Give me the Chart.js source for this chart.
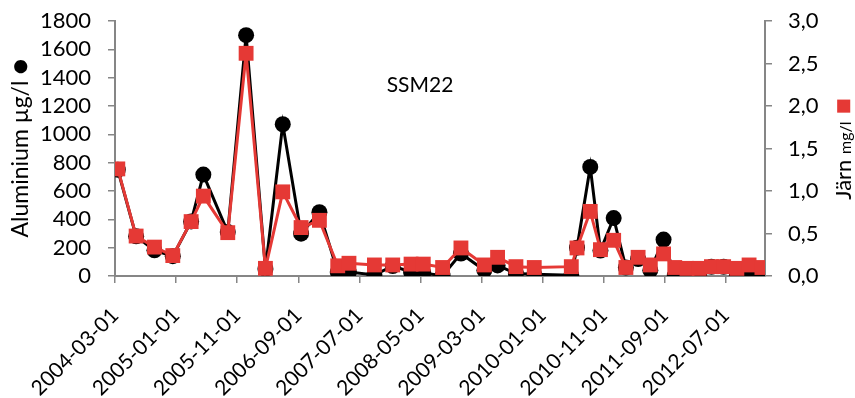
<!doctype html>
<html>

<head>
	<title>SSM22 aluminium och järn</title>
	<script src="https://cdn.jsdelivr.net/npm/chart.js@4.4.0/dist/chart.umd.min.js"></script>
	<style>
		body { margin: 0; background: #fff; }
	</style>
</head>

<body>
	<canvas id="chart-area" width="855" height="398"></canvas>

	<script>
		// provtagningsdatum
		var dates = [
			'2004-03-15', '2004-06-15', '2004-09-15', '2004-12-15', '2005-03-15', '2005-05-15',
			'2005-09-15', '2005-12-15', '2006-03-20', '2006-06-15', '2006-09-15', '2006-12-15',
			'2007-03-15', '2007-05-10', '2007-09-15', '2007-12-15', '2008-03-15', '2008-05-15',
			'2008-08-20', '2008-11-20', '2009-03-15', '2009-05-20', '2009-08-20', '2009-11-20',
			'2010-05-22', '2010-06-20', '2010-08-25', '2010-10-15', '2010-12-20', '2011-02-20',
			'2011-04-20', '2011-06-20', '2011-08-25', '2011-10-20', '2011-12-20', '2012-02-20',
			'2012-04-20', '2012-06-20', '2012-08-25', '2012-10-25', '2012-12-28'
		];
		// Aluminium µg/l
		var aluminium = [
			750, 280, 181, 140, 385, 716,
			310, 1700, 50, 1071, 299, 450,
			28, 28, 8, 70, 28, 21,
			2, 158, 40, 75, 17, 12,
			5, 200, 770, 180, 409, 60,
			120, 40, 257, 2, 2, 10,
			65, 65, 5, 17, 2
		];
		// Järn mg/l
		var jarn = [
			1.26, 0.47, 0.34, 0.24, 0.64, 0.94,
			0.51, 2.62, 0.09, 0.99, 0.57, 0.655,
			0.12, 0.15, 0.13, 0.13, 0.14, 0.14,
			0.10, 0.33, 0.13, 0.22, 0.11, 0.10,
			0.11, 0.33, 0.76, 0.31, 0.42, 0.10,
			0.22, 0.13, 0.26, 0.10, 0.09, 0.09,
			0.11, 0.11, 0.09, 0.13, 0.10
		];
		var tickLabels = [
			'2004-03-01', '2005-01-01', '2005-11-01', '2006-09-01', '2007-07-01', '2008-05-01',
			'2009-03-01', '2010-01-01', '2010-11-01', '2011-09-01', '2012-07-01'
		];
		var axisStart = '2004-03-01';
		var axisEnd = '2013-01-13';

		// datum -> månader sedan axelns start
		function monthsSince(s) {
			var p = s.split('-').map(Number);
			var a = axisStart.split('-').map(Number);
			return (p[0] - a[0]) * 12 + (p[1] - a[1]) + (p[2] - 1) / 30.44;
		}

		function pts(values) {
			return values.map(function(v, i) { return { x: monthsSince(dates[i]), y: v }; });
		}

		var tickPos = tickLabels.map(monthsSince);
		var font = 'Lato, "Open Sans", sans-serif';
		var gray = '#868686';
		var red = '#E53935';

		// skriver delar av en roterad text efter varandra, centrerat
		function rotatedParts(c, x, y, parts) {
			c.save();
			c.translate(x, y);
			c.rotate(-Math.PI / 2);
			c.textAlign = 'left';
			c.textBaseline = 'alphabetic';
			var total = 0;
			parts.forEach(function(p) { c.font = p.size + 'px ' + font; p.w = c.measureText(p.text).width; total += p.w; });
			var cx = -total / 2;
			parts.forEach(function(p) {
				c.font = p.size + 'px ' + font;
				c.fillStyle = p.color || '#000';
				c.fillText(p.text, cx, 8 + (p.dy || 0));
				cx += p.w;
			});
			c.restore();
		}

		var titles = {
			id: 'titles',
			afterDraw: function(chart) {
				var c = chart.ctx;
				c.save();
				c.fillStyle = '#000';
				c.textBaseline = 'middle';
				c.textAlign = 'center';
				c.font = '21px ' + font;
				c.fillText('SSM22', 420, 85);
				c.restore();

				rotatedParts(c, 20, 148, [
					{ text: 'Aluminium µg/l ', size: 23 },
					{ text: '●', size: 27, dy: 1 }
				]);
				rotatedParts(c, 843, 149, [
					{ text: 'Järn ', size: 22 },
					{ text: 'mg/l', size: 16 },
					{ text: ' ■', size: 27, color: red, dy: 1 }
				]);
			}
		};

		function yFit(w) {
			return function(scale) {
				scale.width = w;
				scale.paddingTop = 0;
				scale.paddingBottom = 0;
			};
		}

		var ctx = document.getElementById('chart-area').getContext('2d');
		window.myChart = new Chart(ctx, {
			type: 'line',
			data: {
				datasets: [{
					label: 'Aluminium µg/l',
					data: pts(aluminium),
					yAxisID: 'yAl',
					borderColor: '#000',
					backgroundColor: '#000',
					borderWidth: 3,
					pointStyle: 'circle',
					pointRadius: 8,
					pointBorderWidth: 0,
					order: 2
				}, {
					label: 'Järn mg/l',
					data: pts(jarn),
					yAxisID: 'yFe',
					borderColor: red,
					backgroundColor: red,
					borderWidth: 3,
					pointStyle: 'rect',
					pointRadius: 10.5,
					pointBorderWidth: 0,
					order: 1
				}]
			},
			options: {
				responsive: false,
				animation: false,
				layout: { padding: { top: 21 } },
				plugins: {
					legend: { display: false },
					tooltip: { enabled: false }
				},
				scales: {
					x: {
						type: 'linear',
						min: 0,
						max: monthsSince(axisEnd),
						afterBuildTicks: function(scale) {
							scale.ticks = tickPos.map(function(v) { return { value: v }; });
						},
						afterFit: function(scale) { scale.height = 122; },
						ticks: {
							autoSkip: false,
							minRotation: 45,
							maxRotation: 45,
							padding: 20,
							color: '#000',
							font: { family: font, size: 21 },
							callback: function(v) {
								var i = tickPos.indexOf(v);
								return i >= 0 ? tickLabels[i] : '';
							}
						},
						grid: { drawOnChartArea: false, drawTicks: true, tickLength: 7, color: gray, lineWidth: 1.5 },
						border: { color: gray, width: 2 }
					},
					yAl: {
						position: 'left',
						min: 0,
						max: 1800,
						afterFit: yFit(115),
						ticks: {
							autoSkip: false,
							stepSize: 200,
							padding: 17,
							color: '#000',
							font: { family: font, size: 22 },
							callback: function(v) { return String(v); }
						},
						grid: { drawOnChartArea: false, drawTicks: true, tickLength: 7, color: gray, lineWidth: 1.5 },
						border: { color: gray, width: 2 }
					},
					yFe: {
						position: 'right',
						min: 0,
						max: 3,
						afterFit: yFit(90),
						ticks: {
							autoSkip: false,
							stepSize: 0.5,
							padding: 16,
							color: '#000',
							font: { family: font, size: 22 },
							callback: function(v) { return v.toFixed(1).replace('.', ','); }
						},
						grid: { drawOnChartArea: false, drawTicks: true, tickLength: 7, color: gray, lineWidth: 1.5 },
						border: { color: gray, width: 2 }
					}
				}
			},
			plugins: [titles]
		});
	</script>
</body>

</html>
